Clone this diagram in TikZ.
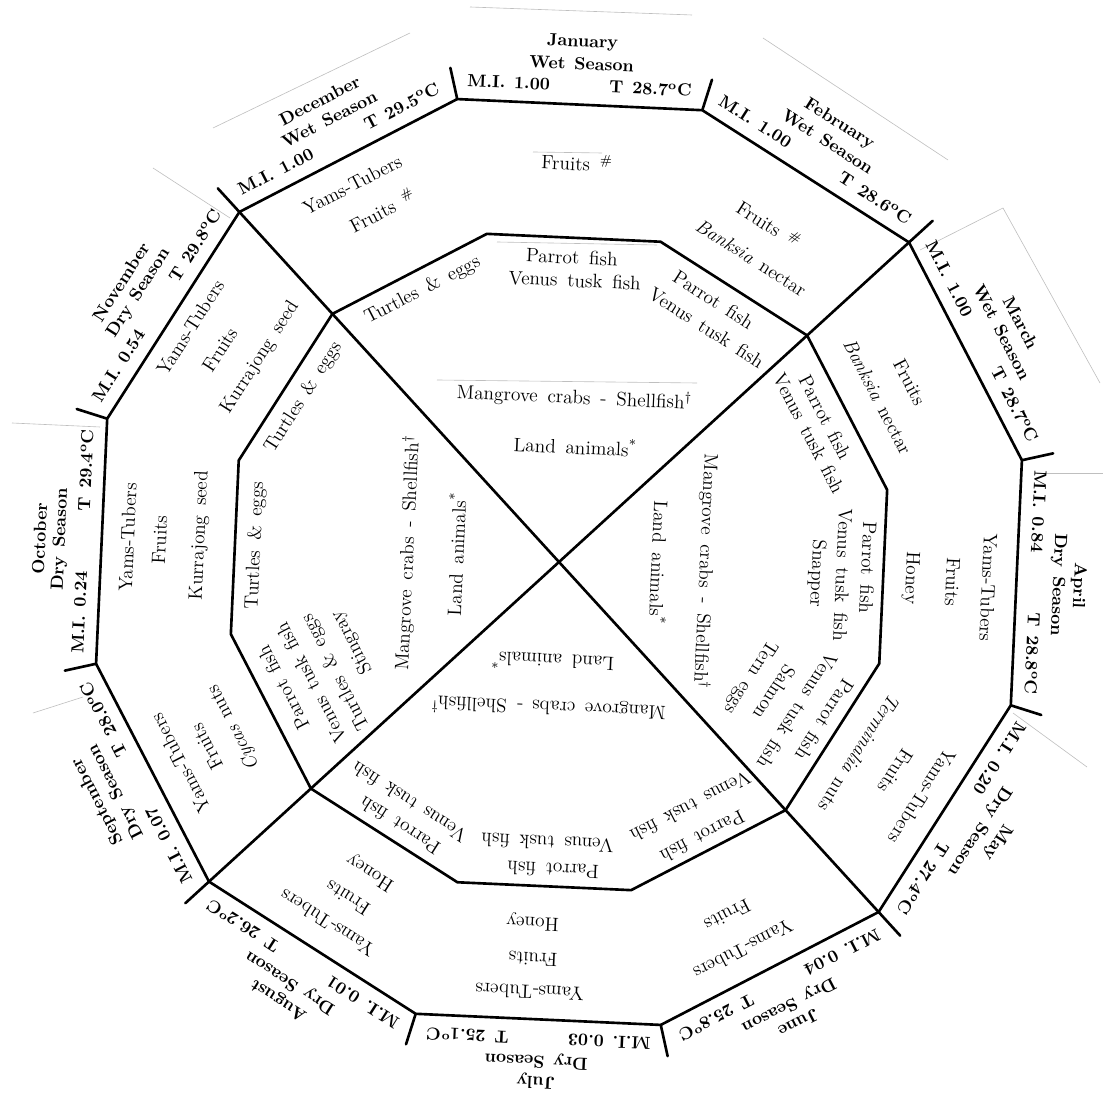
\documentclass[tikz,border=0pt]{standalone}
\usetikzlibrary{calc}
\newcommand\ft[5]{\node[ftxt, rotate=#2-90] (#1) at ([rotate=#2-90]#4,#3) {#5};}
\begin{document}
\begin{tikzpicture}[x=0.2mm,y=0.2mm,
  edge/.style={line width=1.5pt, line join=miter, line cap=round},
  faint/.style={black!25, line width=0.35pt},
  mlab/.style={font={\fontsize{10}{12}\selectfont\bfseries\spaceskip=0.5em\relax}, inner sep=0pt},
  ftxt/.style={font={\fontsize{11}{13}\selectfont\spaceskip=0.5em\relax}, inner sep=0pt},
]
\useasboundingbox (-559,-538) rectangle (544,562);
% vertices
\foreach \k in {0,...,11}{
  \coordinate (o\k) at (12.4+30*\k:474);
  \coordinate (p\k) at (12.4+30*\k:336);
  \coordinate (t\k) at (12.4+30*\k:506);
}
% faint paper edges
\draw[faint] (-89,555) -- (133,547);
\draw[faint] (204,524) -- (389,402);
\draw[faint] (-346,434) -- (-149,529);
\draw[faint] (-406,394) -- (-329,344);
\draw[faint] (-547,139) -- (-459,135);
\draw[faint] (478,89) -- (544,89);
\draw[faint] (454,-151) -- (528,-205);
\draw[faint] (361,312) -- (444,354) -- (541,179);
\draw[faint] (-526,-151) -- (-476,-135);
\draw[faint] (-62,320) -- (98,317);
\draw[faint] (-122,182) -- (138,179);
\draw[faint] (-26,410) -- (43,409);
% polygons
\draw[edge] (o0) -- (o1) -- (o2) -- (o3) -- (o4) -- (o5) -- (o6) -- (o7) -- (o8) -- (o9) -- (o10) -- (o11) -- cycle;
\draw[edge] (p0) -- (p1) -- (p2) -- (p3) -- (p4) -- (p5) -- (p6) -- (p7) -- (p8) -- (p9) -- (p10) -- (p11) -- cycle;
% diagonals
\draw[edge] (o4) -- (o10);
\draw[edge] (o1) -- (o7);
% ticks
\foreach \k in {0,...,11}{ \draw[edge] (o\k) -- (t\k); }
% month labels
\foreach \a/\mon/\sea/\mi/\t [count=\i] in {87.4/January/Wet/1.00/28.7, 57.4/February/Wet/1.00/28.6, 27.4/March/Wet/1.00/28.7, -2.6/April/Dry/0.84/28.8, -32.6/May/Dry/0.20/27.4, -62.6/June/Dry/0.04/25.8, -92.6/July/Dry/0.03/25.1, -122.6/August/Dry/0.01/26.2, -152.6/September/Dry/0.07/28.0, 177.4/October/Dry/0.24/29.4, 147.4/November/Dry/0.54/29.8, 117.4/December/Wet/1.00/29.5}{
  \node[mlab, rotate=\a-90] (mon\i) at ([rotate=\a-90]0,520) {\mon};
  \node[mlab, rotate=\a-90] (sea\i) at ([rotate=\a-90]0,499) {\sea\ Season};
  \node[mlab, rotate=\a-90] (mi\i) at ([rotate=\a-90]-72,477) {M.I. \mi};
  \node[mlab, rotate=\a-90] (tt\i) at ([rotate=\a-90]70,477) {T \t\textsuperscript{o}C};
}
% outer ring foods
\ft{r1a}{87.4}{400}{0}{Fruits\ \textsuperscript{\#}}
\ft{r2a}{57.4}{398}{-5}{Fruits\ \textsuperscript{\#}}
\ft{r2b}{57.4}{360}{-2}{\textit{Banksia}\ nectar}
\ft{r3a}{27.4}{394}{2}{Fruits}
\ft{r3b}{27.4}{359}{0}{\textit{Banksia}\ nectar}
\ft{r4a}{-2.6}{430}{6}{Yams-Tubers}
\ft{r4b}{-2.6}{394}{2}{Fruits}
\ft{r4c}{-2.6}{352}{0}{Honey}
\ft{r5a}{-32.6}{432}{2}{Yams-Tubers}
\ft{r5b}{-32.6}{396}{-5}{Fruits}
\ft{r5c}{-32.6}{356}{-1}{\textit{Terminalia}\ nuts}
\ft{r6a}{-62.6}{429}{15}{Yams-Tubers}
\ft{r6b}{-62.6}{391}{13}{Fruits}
\ft{r7a}{-92.6}{431}{10}{Yams-Tubers}
\ft{r7b}{-92.6}{398}{8}{Fruits}
\ft{r7c}{-92.6}{361}{10}{Honey}
\ft{r8a}{-122.6}{429}{1}{Yams-Tubers}
\ft{r8b}{-122.6}{397}{-3}{Fruits}
\ft{r8c}{-122.6}{363}{-8}{Honey}
\ft{r9a}{-152.6}{429}{-4}{Yams-Tubers}
\ft{r9b}{-152.6}{398}{-2}{Fruits}
\ft{r9c}{-152.6}{365}{3}{\textit{Cycas}\ nuts}
\ft{r10a}{177.4}{432}{5}{Yams-Tubers}
\ft{r10b}{177.4}{400}{4}{Fruits}
\ft{r10c}{177.4}{360}{10}{Kurrajong seed}
\ft{r11a}{147.4}{437}{-1}{Yams-Tubers}
\ft{r11b}{147.4}{400}{-4}{Fruits}
\ft{r11c}{147.4}{362}{11}{Kurrajong seed}
\ft{r12a}{117.4}{430}{-10}{Yams-Tubers}
\ft{r12b}{117.4}{394}{5}{Fruits\ \textsuperscript{\#}}
% inner ring foods
\ft{i1a}{87.4}{305}{-1}{Parrot fish}
\ft{i1b}{87.4}{282}{3}{Venus tusk fish}
\ft{i2a}{57.4}{304}{-11}{Parrot fish}
\ft{i2b}{57.4}{277}{-2}{Venus tusk fish}
\ft{i3a}{27.4}{303}{-6}{Parrot fish}
\ft{i3b}{27.4}{281}{1}{Venus tusk fish}
\ft{i4a}{-2.6}{309}{-8}{Parrot fish}
\ft{i4b}{-2.6}{284}{0}{Venus tusk fish}
\ft{i4c}{-2.6}{258}{0}{Snapper}
\ft{i5a}{-32.6}{309}{-10}{Parrot fish}
\ft{i5b}{-32.6}{281}{-3}{Venus tusk fish}
\ft{i5c}{-32.6}{252}{-6}{Salmon}
\ft{i5d}{-32.6}{223}{-6}{Tern eggs}
\ft{i6a}{-62.6}{310}{-1}{Parrot fish}
\ft{i6b}{-62.6}{278}{-4}{Venus tusk fish}
\ft{i7a}{-92.6}{308}{-8}{Parrot fish}
\ft{i7b}{-92.6}{281}{-1}{Venus tusk fish}
\ft{i8a}{-122.6}{308}{-8}{Parrot fish}
\ft{i8b}{-122.6}{283}{-3}{Venus tusk fish}
\ft{i9a}{-152.6}{303}{15}{Parrot fish}
\ft{i9b}{-152.6}{276}{7}{Venus tusk fish}
\ft{i9c}{-152.6}{249}{5}{Turtles \& eggs}
\ft{i9d}{-152.6}{221}{24}{Stingray}
\ft{i10a}{177.4}{304}{3}{Turtles \& eggs}
\ft{i11a}{147.4}{304}{1}{Turtles \& eggs}
\ft{i12a}{117.4}{304}{4}{Turtles \& eggs}
% central triangles
\ft{c1a}{87.4}{165}{8}{Mangrove crabs - Shellfish\textsuperscript{\dag}}
\ft{c1b}{87.4}{117}{11}{Land animals\textsuperscript{*}}
\ft{c2a}{-2.6}{147}{3}{Mangrove crabs - Shellfish\textsuperscript{\dag}}
\ft{c2b}{-2.6}{101}{-4}{Land animals\textsuperscript{*}}
\ft{c3a}{-92.6}{146}{4}{Mangrove crabs - Shellfish\textsuperscript{\dag}}
\ft{c3b}{-92.6}{101}{2}{Land animals\textsuperscript{*}}
\ft{c4a}{177.4}{152}{2}{Mangrove crabs - Shellfish\textsuperscript{\dag}}
\ft{c4b}{177.4}{104}{3}{Land animals\textsuperscript{*}}
\end{tikzpicture}
\end{document}
